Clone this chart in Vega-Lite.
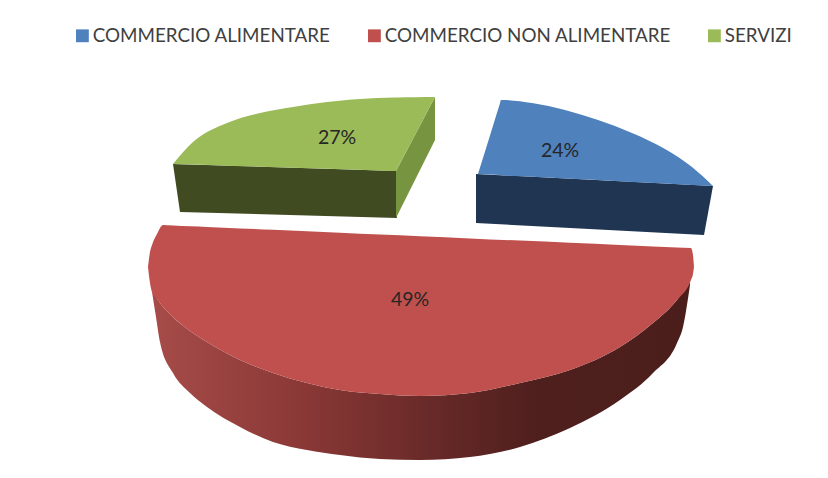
{
"$schema":"https://vega.github.io/schema/vega-lite/v6.json",
"width":828,"height":478,"padding":0,
"autosize":{"type":"fit","contains":"padding"},
"background":"white",
"config":{"view":{"stroke":null}},
"datasets":{
"top":[
{"categoria":"COMMERCIO ALIMENTARE","x":478,"y":174,"y2":174},
{"categoria":"COMMERCIO ALIMENTARE","x":490,"y":135.4,"y2":174.6},
{"categoria":"COMMERCIO ALIMENTARE","x":500,"y":103.2,"y2":175.1},
{"categoria":"COMMERCIO ALIMENTARE","x":501,"y":100,"y2":175.2},
{"categoria":"COMMERCIO ALIMENTARE","x":532,"y":103,"y2":176.8},
{"categoria":"COMMERCIO ALIMENTARE","x":565,"y":110,"y2":178.4},
{"categoria":"COMMERCIO ALIMENTARE","x":598,"y":120,"y2":180.1},
{"categoria":"COMMERCIO ALIMENTARE","x":632,"y":133,"y2":181.9},
{"categoria":"COMMERCIO ALIMENTARE","x":665,"y":149,"y2":183.5},
{"categoria":"COMMERCIO ALIMENTARE","x":692,"y":167,"y2":184.9},
{"categoria":"COMMERCIO ALIMENTARE","x":713,"y":186,"y2":186},
{"categoria":"COMMERCIO NON ALIMENTARE","x":148,"y":267,"y2":267},
{"categoria":"COMMERCIO NON ALIMENTARE","x":150,"y":252,"y2":283},
{"categoria":"COMMERCIO NON ALIMENTARE","x":152,"y":245,"y2":292},
{"categoria":"COMMERCIO NON ALIMENTARE","x":157,"y":234,"y2":299},
{"categoria":"COMMERCIO NON ALIMENTARE","x":163,"y":225,"y2":307},
{"categoria":"COMMERCIO NON ALIMENTARE","x":173,"y":225.4,"y2":317},
{"categoria":"COMMERCIO NON ALIMENTARE","x":190,"y":226.2,"y2":331},
{"categoria":"COMMERCIO NON ALIMENTARE","x":207,"y":226.9,"y2":342},
{"categoria":"COMMERCIO NON ALIMENTARE","x":240,"y":228.4,"y2":360},
{"categoria":"COMMERCIO NON ALIMENTARE","x":273,"y":229.8,"y2":373},
{"categoria":"COMMERCIO NON ALIMENTARE","x":307,"y":231.3,"y2":383},
{"categoria":"COMMERCIO NON ALIMENTARE","x":340,"y":232.7,"y2":390},
{"categoria":"COMMERCIO NON ALIMENTARE","x":380,"y":234.5,"y2":394},
{"categoria":"COMMERCIO NON ALIMENTARE","x":420,"y":236.2,"y2":396},
{"categoria":"COMMERCIO NON ALIMENTARE","x":470,"y":238.4,"y2":393},
{"categoria":"COMMERCIO NON ALIMENTARE","x":520,"y":240.6,"y2":383},
{"categoria":"COMMERCIO NON ALIMENTARE","x":570,"y":242.7,"y2":370},
{"categoria":"COMMERCIO NON ALIMENTARE","x":620,"y":244.9,"y2":347},
{"categoria":"COMMERCIO NON ALIMENTARE","x":653,"y":246.4,"y2":323},
{"categoria":"COMMERCIO NON ALIMENTARE","x":677,"y":247.4,"y2":300},
{"categoria":"COMMERCIO NON ALIMENTARE","x":691,"y":248,"y2":280},
{"categoria":"COMMERCIO NON ALIMENTARE","x":693,"y":255,"y2":274},
{"categoria":"COMMERCIO NON ALIMENTARE","x":694,"y":267,"y2":267},
{"categoria":"SERVIZI","x":173,"y":164,"y2":164},
{"categoria":"SERVIZI","x":193,"y":142,"y2":164.6},
{"categoria":"SERVIZI","x":227,"y":123,"y2":165.7},
{"categoria":"SERVIZI","x":260,"y":113,"y2":166.7},
{"categoria":"SERVIZI","x":293,"y":107,"y2":167.8},
{"categoria":"SERVIZI","x":327,"y":102,"y2":168.8},
{"categoria":"SERVIZI","x":377,"y":98,"y2":170.4},
{"categoria":"SERVIZI","x":395,"y":97.5,"y2":171},
{"categoria":"SERVIZI","x":396,"y":97.5,"y2":171},
{"categoria":"SERVIZI","x":397,"y":97.4,"y2":169.1},
{"categoria":"SERVIZI","x":415,"y":97.2,"y2":135},
{"categoria":"SERVIZI","x":435,"y":97,"y2":97}
],
"redSide":[
{"x":152,"y":292,"y2":292},{"x":156,"y":297,"y2":317},{"x":160,"y":303,"y2":342},{"x":173,"y":317,"y2":373},
{"x":190,"y":331,"y2":393},{"x":207,"y":342,"y2":407},{"x":240,"y":360,"y2":427},{"x":273,"y":373,"y2":442},
{"x":307,"y":383,"y2":450},{"x":340,"y":390,"y2":455},{"x":380,"y":394,"y2":459},{"x":420,"y":396,"y2":460},
{"x":470,"y":393,"y2":457},{"x":520,"y":383,"y2":447},{"x":570,"y":370,"y2":428},{"x":620,"y":347,"y2":400},
{"x":653,"y":323,"y2":373},{"x":677,"y":300,"y2":343},{"x":683,"y":292,"y2":327},{"x":690,"y":282,"y2":285}
],
"blueFront":[
{"x":476,"y":174,"y2":223},{"x":704,"y":185.5,"y2":235},{"x":713,"y":186,"y2":186}
],
"greenFront":[
{"x":173,"y":164,"y2":164},{"x":180,"y":164.2,"y2":212},{"x":397,"y":171,"y2":218}
],
"greenRight":[
{"x":396,"y":171,"y2":218},{"x":435,"y":97,"y2":140}
],
"labels":[
{"categoria":"COMMERCIO ALIMENTARE","percento":"24%","x":560,"y":151},
{"categoria":"COMMERCIO NON ALIMENTARE","percento":"49%","x":410,"y":300},
{"categoria":"SERVIZI","percento":"27%","x":337,"y":138}
]
},
"encoding":{
"x":{"field":"x","type":"quantitative","scale":{"domain":[0,828],"nice":false,"zero":false},"axis":null},
"y":{"field":"y","type":"quantitative","scale":{"domain":[478,0],"nice":false,"zero":false},"axis":null}
},
"layer":[
{"data":{"name":"redSide"},
 "mark":{"type":"area","interpolate":"monotone","color":{"gradient":"linear","x1":0,"y1":0,"x2":1,"y2":0,"stops":[{"offset":0,"color":"#A64C49"},{"offset":0.28,"color":"#8A3836"},{"offset":0.5,"color":"#6A2B29"},{"offset":0.72,"color":"#4E1F1D"},{"offset":1,"color":"#4B1E1C"}]}},
 "encoding":{"y2":{"field":"y2"}}},
{"data":{"name":"blueFront"},"mark":{"type":"area","color":"#1F3552"},"encoding":{"y2":{"field":"y2"}}},
{"data":{"name":"greenFront"},"mark":{"type":"area","color":"#404B22"},"encoding":{"y2":{"field":"y2"}}},
{"data":{"name":"greenRight"},"mark":{"type":"area","color":"#779440"},"encoding":{"y2":{"field":"y2"}}},
{"data":{"name":"top"},"mark":{"type":"area","interpolate":"monotone"},
 "encoding":{"y2":{"field":"y2"},
  "color":{"field":"categoria","type":"nominal",
   "scale":{"domain":["COMMERCIO ALIMENTARE","COMMERCIO NON ALIMENTARE","SERVIZI"],"range":["#4F81BD","#C0504D","#9BBB59"]},
   "legend":{"title":null,"orient":"none","legendX":73,"legendY":26,"direction":"horizontal","columns":3,"columnPadding":34,"symbolType":"square","symbolSize":165,"symbolOpacity":1,"symbolStrokeWidth":0,"labelFont":"Lato","labelFontSize":18.8,"labelColor":"#404040","labelLimit":400,"labelOffset":1}}}},
{"data":{"name":"labels"},"mark":{"type":"text","font":"Lato","fontSize":19.5,"color":"#262626"},
 "encoding":{"text":{"field":"percento","type":"nominal"}}}
]
}
